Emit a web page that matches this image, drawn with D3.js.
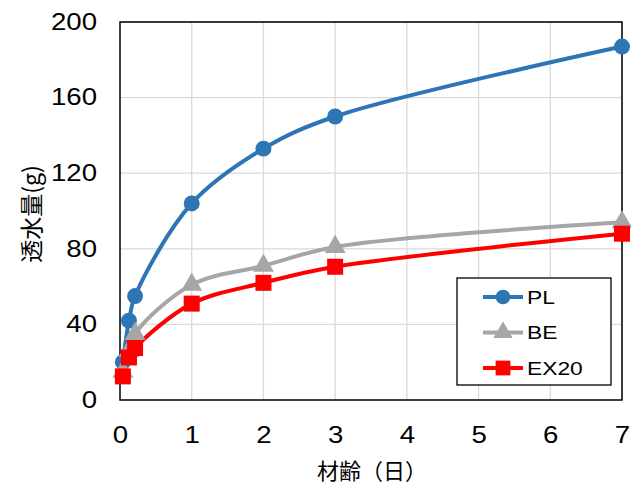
<!DOCTYPE html>
<html>
<head>
<meta charset="utf-8">
<script src="https://cdn.jsdelivr.net/npm/d3@7"></script>
<style>
  body { margin: 0; background: #fff; }
  text { font-family: "Liberation Sans", Arial, "Noto Sans CJK JP", sans-serif; fill: #000; }
  .jp { font-family: "Noto Sans CJK JP", sans-serif; }
</style>
</head>
<body>
<div id="container"></div>
<script>
const width = 631
const height = 486
const margin = {top: 22, right: 9, bottom: 86, left: 120}

// data
const days = [0.04, 0.125, 0.21, 1, 2, 3, 7]
const pl = [20, 42, 55, 104, 133, 150, 187]
const be = [15, 26, 35, 61, 71, 81, 94]
const ex20 = [12.5, 22.5, 27.5, 51, 62, 70.5, 88]
const seriesNames = ['PL', 'BE', 'EX20']
const colors = ['#2e75b6', '#a6a6a6', '#ff0000']
const xTicks = [0, 1, 2, 3, 4, 5, 6, 7]
const yTicks = [0, 40, 80, 120, 160, 200]

const series = [pl, be, ex20].map((vals, i) => ({
    id: seriesNames[i],
    color: colors[i],
    values: days.map((d, j) => ({x: d, y: vals[j]}))
}))

const svg = d3.select('#container').append('svg')
    .attr('width', width)
    .attr('height', height)

const xScale = d3.scaleLinear().domain([0, 7]).range([margin.left, width - margin.right])
const yScale = d3.scaleLinear().domain([0, 200]).range([height - margin.bottom, margin.top])

// stretch text horizontally (the reference glyphs are wider than Arial)
const stretch = (sel, k) => sel.each(function () {
    const w = this.getComputedTextLength()
    d3.select(this).attr('textLength', w * k).attr('lengthAdjust', 'spacingAndGlyphs')
})

// gridlines
svg.append('g').selectAll('line.h')
    .data(yTicks.slice(1))
    .enter().append('line')
    .attr('x1', xScale(0)).attr('x2', xScale(7))
    .attr('y1', d => yScale(d)).attr('y2', d => yScale(d))
    .attr('stroke', '#d9d9d9').attr('stroke-width', 1.3)

svg.append('g').selectAll('line.v')
    .data(xTicks.slice(1))
    .enter().append('line')
    .attr('y1', yScale(0)).attr('y2', yScale(200))
    .attr('x1', d => xScale(d)).attr('x2', d => xScale(d))
    .attr('stroke', '#d9d9d9').attr('stroke-width', 1.3)

// axes (labels only, box drawn below)
const xaxis = d3.axisBottom(xScale).tickValues(xTicks).tickFormat(d3.format('d')).tickSize(0).tickPadding(27)
const yaxis = d3.axisLeft(yScale).tickValues(yTicks).tickFormat(d3.format('d')).tickSize(0).tickPadding(23)

svg.append('g')
    .attr('transform', 'translate(0,' + yScale(0) + ')')
    .call(xaxis)
    .call(g => g.select('.domain').remove())
    .selectAll('text').style('font-size', '23px')
    .call(stretch, 1.2)

svg.append('g')
    .attr('transform', 'translate(' + xScale(0) + ',0)')
    .call(yaxis)
    .call(g => g.select('.domain').remove())
    .selectAll('text').style('font-size', '23px')
    .call(stretch, 1.2)

// plot border
svg.append('rect')
    .attr('x', xScale(0)).attr('y', yScale(200))
    .attr('width', xScale(7) - xScale(0))
    .attr('height', yScale(0) - yScale(200))
    .attr('fill', 'none').attr('stroke', '#000').attr('stroke-width', 1.5)

// lines
const line = d3.line()
    .x(d => xScale(d.x))
    .y(d => yScale(d.y))
    .curve(d3.curveCatmullRom.alpha(0.5))

const symbols = [d3.symbolCircle, d3.symbolTriangle, d3.symbolSquare]
const symSizes = [200, 190, 256]

series.forEach((s, i) => {
    svg.append('path')
        .attr('d', line(s.values))
        .attr('fill', 'none')
        .attr('stroke', s.color)
        .attr('stroke-width', 4)
})
series.forEach((s, i) => {
    svg.append('g').selectAll('path')
        .data(s.values)
        .enter().append('path')
        .attr('transform', d => 'translate(' + xScale(d.x) + ',' + yScale(d.y) + ')')
        .attr('d', d3.symbol().type(symbols[i]).size(symSizes[i]))
        .attr('fill', s.color)
})

// legend
const legend = svg.append('g')
legend.append('rect')
    .attr('x', 457).attr('y', 278).attr('width', 154).attr('height', 107)
    .attr('fill', '#fff').attr('stroke', '#000').attr('stroke-width', 1.3)

series.forEach((s, i) => {
    const ly = 297 + i * 35.5
    legend.append('line')
        .attr('x1', 483).attr('x2', 523).attr('y1', ly).attr('y2', ly)
        .attr('stroke', s.color).attr('stroke-width', 4)
    legend.append('path')
        .attr('transform', 'translate(503,' + ly + ')')
        .attr('d', d3.symbol().type(symbols[i]).size(symSizes[i] * 0.85))
        .attr('fill', s.color)
    legend.append('text')
        .attr('x', 527).attr('y', ly)
        .attr('dy', '0.36em')
        .style('font-size', '19px')
        .text(s.id)
        .call(stretch, 1.2)
})

// axis titles
svg.append('text')
    .attr('class', 'jp')
    .attr('x', 372)
    .attr('y', 479)
    .attr('text-anchor', 'middle')
    .style('font-size', '22px')
    .text('材齢（日）')

svg.append('text')
    .attr('class', 'jp')
    .attr('transform', 'translate(40,214) rotate(-90)')
    .attr('text-anchor', 'middle')
    .style('font-size', '23px')
    .text('透水量(g)')
</script>
</body>
</html>
